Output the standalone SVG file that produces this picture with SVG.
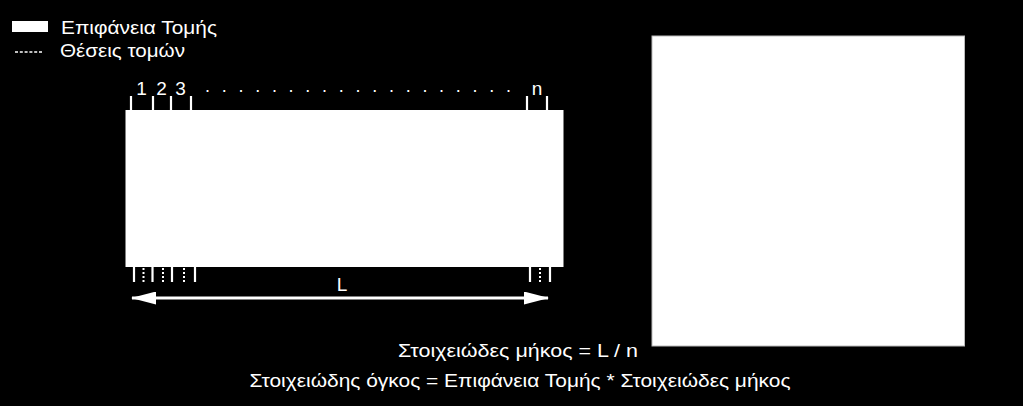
<svg xmlns="http://www.w3.org/2000/svg" width="1023" height="406" viewBox="0 0 1023 406">
<defs>
<style>
text{font-family:"Liberation Sans",Arial,sans-serif;fill:#fff}
.tick{stroke:#fff;stroke-width:2.2;fill:none}
.dot{stroke:#fff;stroke-width:2;stroke-dasharray:2,2;fill:none}
.shape{fill:#fff}
</style>
<marker id="ah" viewBox="0 0 25 13" refX="24" refY="6.5" markerWidth="25" markerHeight="13" markerUnits="userSpaceOnUse" orient="auto-start-reverse">
<path d="M0,0 L25,6.5 L0,13 Z" fill="#fff"/>
</marker>
</defs>
<rect width="1023" height="406" fill="#000"/>
<g id="legend">
<rect class="shape" x="12" y="21" width="36" height="11"/>
<text x="61" y="34" font-size="19" textLength="156" lengthAdjust="spacingAndGlyphs">Επιφάνεια Τομής</text>
<line x1="15" y1="52" x2="43" y2="52" stroke="#fff" stroke-width="1.4" stroke-dasharray="3,1.8"/>
<text x="60" y="57" font-size="19" textLength="125" lengthAdjust="spacingAndGlyphs">Θέσεις τομών</text>
</g>
<g id="beam">
<rect class="shape" x="125.5" y="110" width="438" height="157"/>
</g>
<g id="top-ticks">
<path class="tick" d="M131,96V110M153,96V110M171,96V110M191,96V110M527,96V110M547,96V110"/>
<text x="141.5" y="95" font-size="19" text-anchor="middle">1</text>
<text x="161.5" y="95" font-size="19" text-anchor="middle">2</text>
<text x="180.5" y="95" font-size="19" text-anchor="middle">3</text>
<text x="537" y="95" font-size="19" text-anchor="middle">n</text>
<text x="205" y="92" font-size="18" textLength="306" lengthAdjust="spacing">. . . . . . . . . . . . . . . . . . .</text>
</g>
<g id="bottom-ticks">
<path class="tick" d="M134,267V282M152.5,267V282M172,267V282M195,267V282M530,267V282M550,267V282"/>
<path class="dot" d="M143.5,268V282M163,268V282M184,268V282M540,268V282"/>
</g>
<g id="connectors">
<line x1="132" y1="298" x2="548" y2="298" stroke="#fff" stroke-width="3" marker-start="url(#ah)" marker-end="url(#ah)"/>
</g>
<text x="342" y="291" font-size="19" text-anchor="middle">L</text>
<g id="section">
<rect class="shape" x="652" y="36" width="312.5" height="310" stroke="#bbb" stroke-width="1"/>
</g>
<text x="518" y="357" font-size="19" text-anchor="middle" textLength="240" lengthAdjust="spacingAndGlyphs">Στοιχειώδες μήκος = L / n</text>
<text x="520" y="387" font-size="19" text-anchor="middle" textLength="541" lengthAdjust="spacingAndGlyphs">Στοιχειώδης όγκος = Επιφάνεια Τομής * Στοιχειώδες μήκος</text>
</svg>
